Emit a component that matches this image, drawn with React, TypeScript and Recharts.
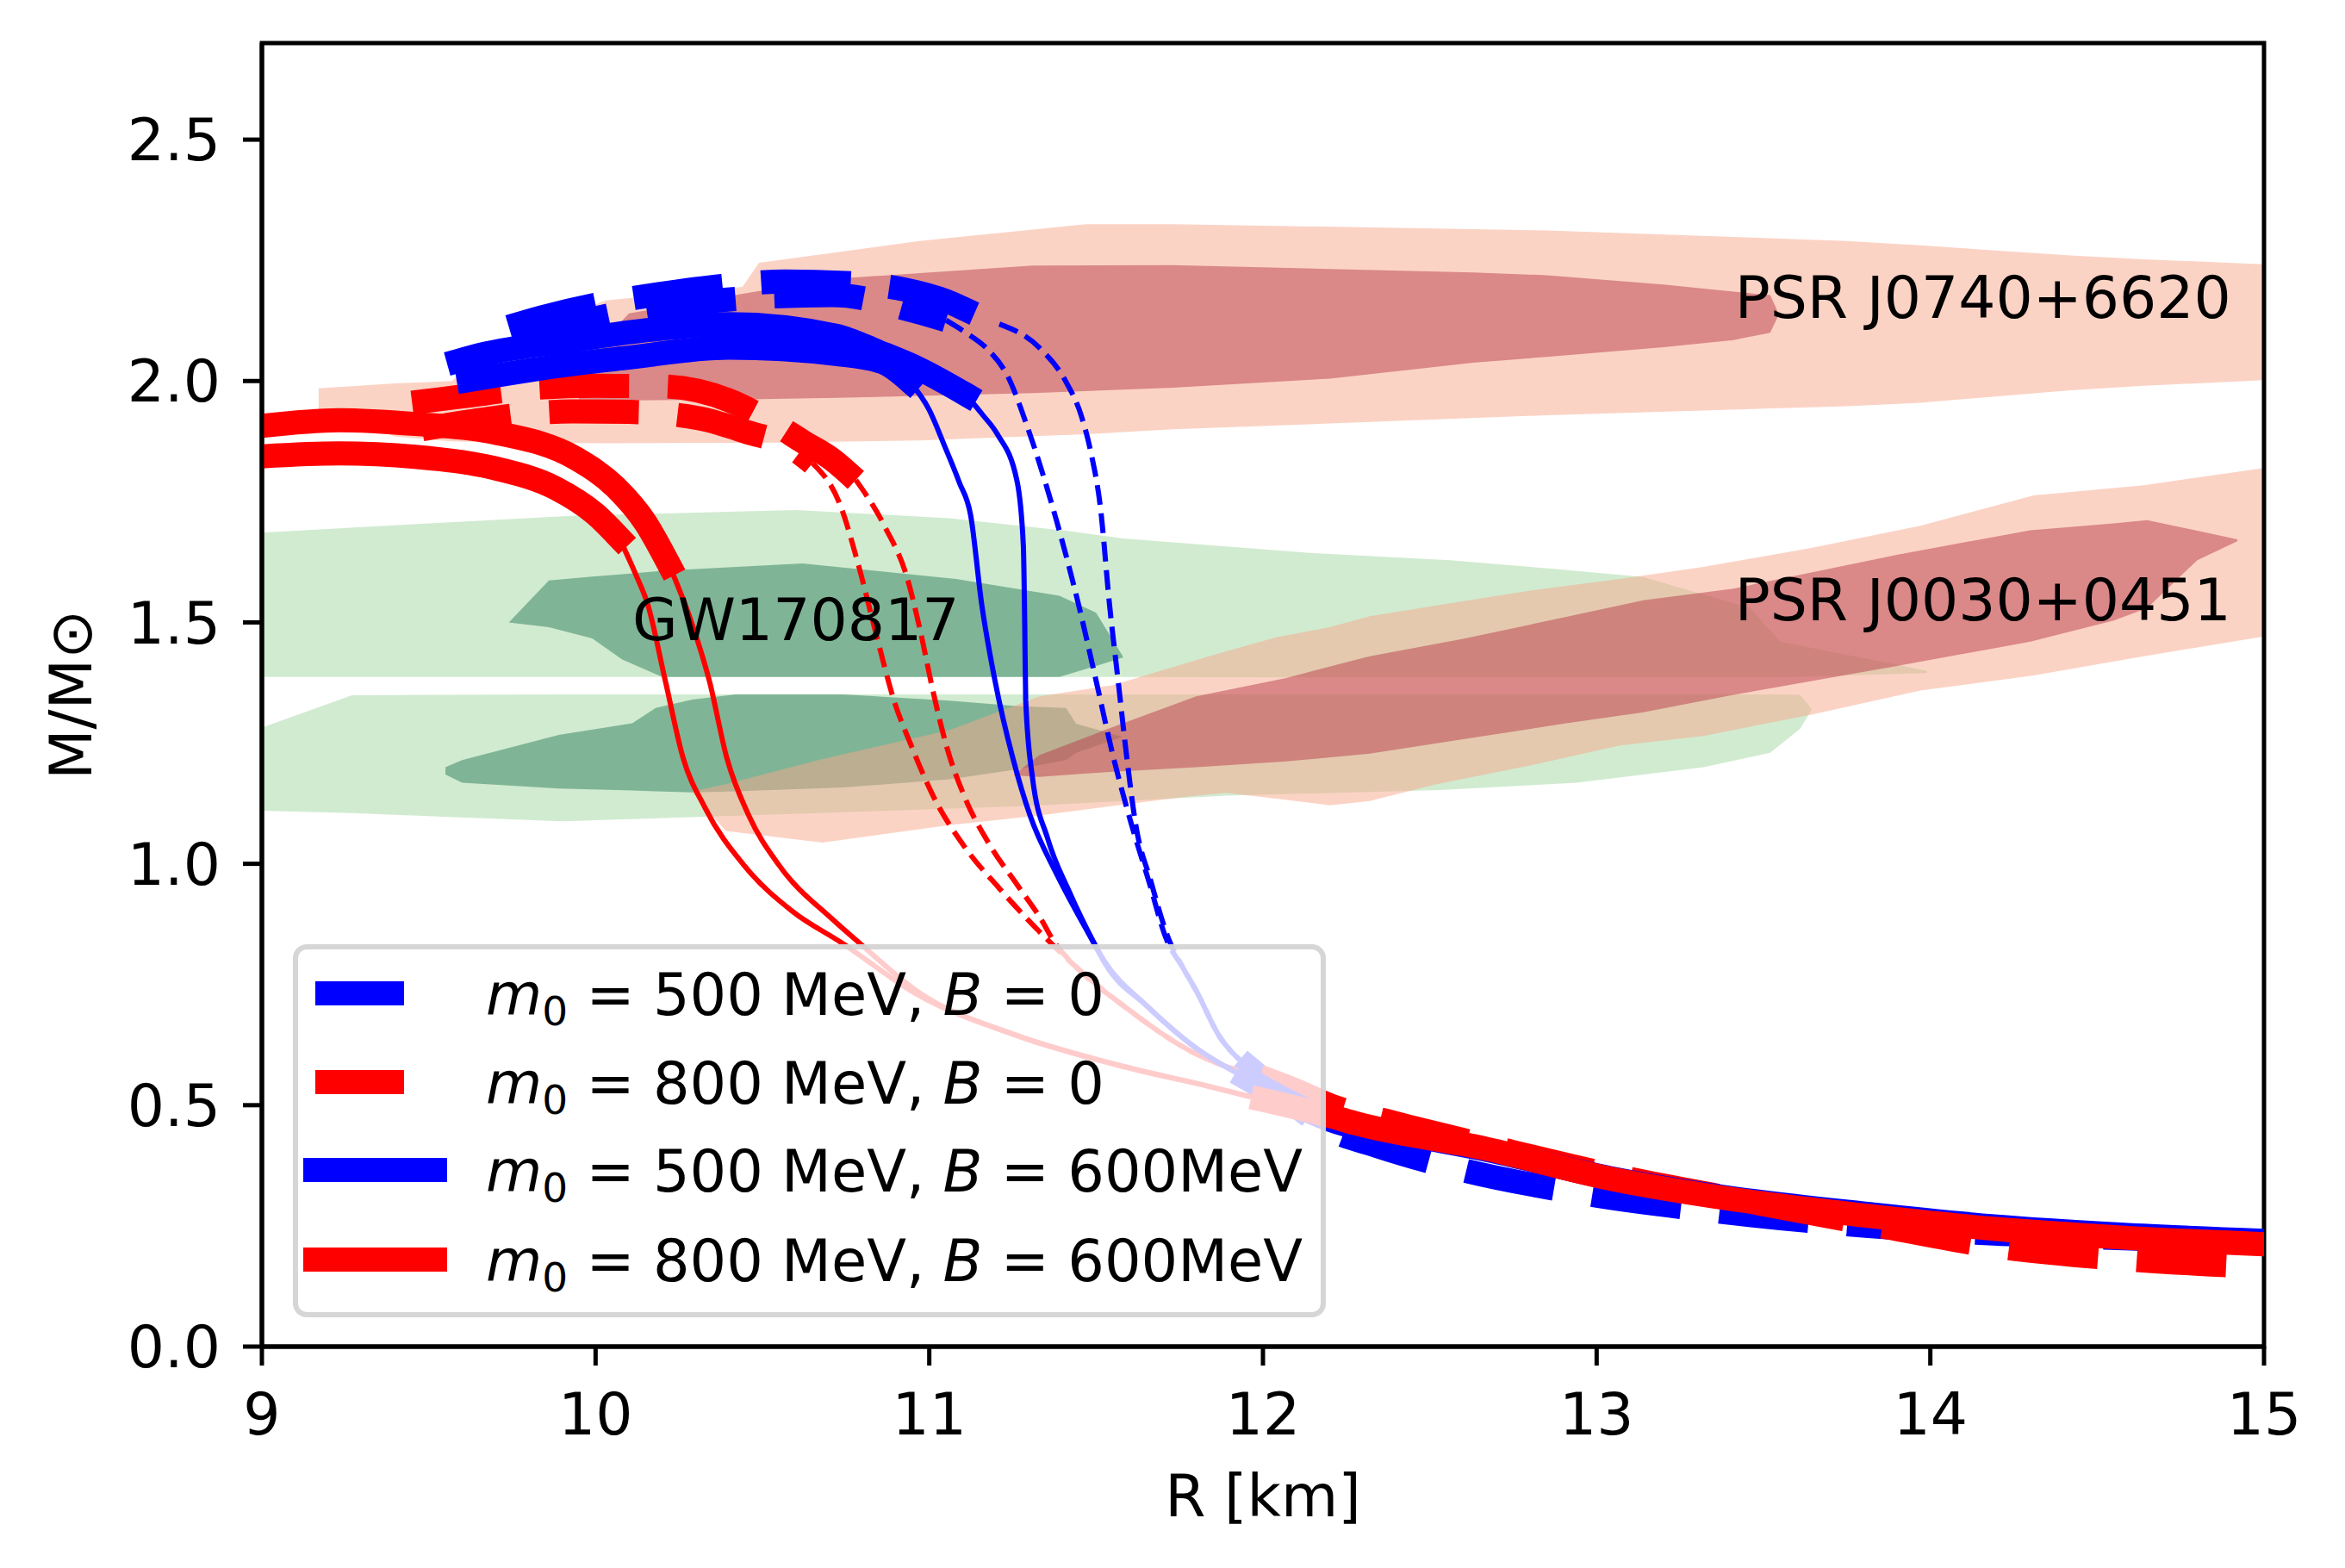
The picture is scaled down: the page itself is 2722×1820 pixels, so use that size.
import React from "react";
import {
  ComposedChart,
  XAxis,
  YAxis,
  Area,
  Line,
  Legend,
  ReferenceArea,
  ReferenceDot,
} from "recharts";

type Pt = [number, number];
type Band = [number, number, number];

const xTicks = [9, 10, 11, 12, 13, 14, 15];
const yTicks = [0, 0.5, 1, 1.5, 2, 2.5];

// m0 = 500 MeV, B = 0 (blue dashed), two curves per entry
const b0HighA: Pt[] = [[9.74, 2.112], [9.84, 2.132], [10.0, 2.158], [10.19, 2.18], [10.38, 2.197], [10.57, 2.206], [10.75, 2.203], [10.93, 2.189], [11.05, 2.166], [11.14, 2.138], [11.21, 2.118]];
const b0MidA: Pt[] = [[11.21, 2.118], [11.33, 2.069], [11.41, 1.998], [11.456, 1.927], [11.485, 1.85], [11.513, 1.738], [11.54, 1.538], [11.566, 1.379], [11.592, 1.22], [11.618, 1.084], [11.664, 0.964], [11.717, 0.845], [11.76, 0.785], [11.8, 0.737], [11.87, 0.642], [11.93, 0.594]];
const b0HighB: Pt[] = [[9.78, 2.085], [10.0, 2.13], [10.34, 2.165], [10.71, 2.178], [10.96, 2.144], [11.05, 2.126]];
const b0MidB: Pt[] = [[11.05, 2.126], [11.11, 2.1], [11.17, 2.069], [11.235, 2.01], [11.298, 1.897], [11.38, 1.714], [11.447, 1.538], [11.5, 1.379], [11.552, 1.22], [11.605, 1.084], [11.658, 0.964], [11.71, 0.845], [11.76, 0.785], [11.8, 0.737], [11.87, 0.642], [11.93, 0.594]];
const b0Low: Pt[] = [[11.93, 0.594], [12.06, 0.52], [12.2, 0.45], [12.34, 0.416], [12.59, 0.367], [12.97, 0.316], [13.35, 0.281], [13.72, 0.255], [14.19, 0.234], [14.6, 0.224], [15.0, 0.215]];

// m0 = 800 MeV, B = 0 (red dashed)
const r0HighA: Pt[] = [[9.45, 1.955], [9.6, 1.968], [9.82, 1.986], [10.0, 1.99], [10.2, 1.989], [10.4, 1.96], [10.53, 1.914], [10.62, 1.875], [10.71, 1.837], [10.78, 1.795]];
const r0MidA: Pt[] = [[10.78, 1.795], [10.867, 1.698], [10.933, 1.594], [10.973, 1.483], [11.012, 1.355], [11.052, 1.243], [11.105, 1.14], [11.184, 1.036], [11.263, 0.957], [11.342, 0.877], [11.368, 0.845], [11.45, 0.78], [11.58, 0.707], [11.8, 0.606], [11.99, 0.559]];
const r0HighB: Pt[] = [[9.48, 1.9], [9.62, 1.916], [9.93, 1.937], [10.1, 1.936], [10.31, 1.923], [10.45, 1.895], [10.59, 1.861], [10.65, 1.83]];
const r0MidB: Pt[] = [[10.65, 1.83], [10.736, 1.738], [10.788, 1.618], [10.841, 1.475], [10.894, 1.339], [10.947, 1.243], [11.012, 1.14], [11.105, 1.036], [11.21, 0.949], [11.328, 0.861], [11.45, 0.78], [11.58, 0.707], [11.8, 0.606], [11.99, 0.559]];
const r0Low: Pt[] = [[11.99, 0.559], [12.1, 0.53], [12.2, 0.5], [12.4, 0.462], [12.66, 0.418], [13.04, 0.356], [13.42, 0.305], [13.81, 0.255], [14.19, 0.208], [14.57, 0.182], [15.0, 0.165]];

// m0 = 500 MeV, B = 600 MeV (blue solid)
const b6HighA: Pt[] = [[9.59, 2.042], [9.66, 2.055], [9.94, 2.085], [10.15, 2.105], [10.4, 2.118], [10.72, 2.094], [10.85, 2.06], [10.97, 2.025], [11.11, 1.972]];
const b6MidA: Pt[] = [[11.11, 1.972], [11.16, 1.93], [11.203, 1.891], [11.263, 1.793], [11.282, 1.658], [11.286, 1.499], [11.289, 1.339], [11.309, 1.18], [11.355, 1.052], [11.421, 0.94], [11.493, 0.837], [11.53, 0.79], [11.65, 0.707], [11.8, 0.618], [11.95, 0.556]];
const b6HighB: Pt[] = [[9.62, 2.002], [9.94, 2.036], [10.08, 2.047], [10.4, 2.069], [10.72, 2.056], [10.86, 2.039], [10.94, 2.0]];
const b6MidB: Pt[] = [[10.94, 2.0], [11.0, 1.94], [11.045, 1.867], [11.09, 1.79], [11.124, 1.722], [11.157, 1.538], [11.197, 1.379], [11.25, 1.22], [11.302, 1.1], [11.381, 0.98], [11.473, 0.861], [11.526, 0.797], [11.65, 0.707], [11.8, 0.618], [11.95, 0.556]];
const b6Low: Pt[] = [[11.95, 0.556], [12.07, 0.51], [12.2, 0.47], [12.5, 0.43], [12.66, 0.409], [13.04, 0.349], [13.42, 0.306], [13.81, 0.275], [14.19, 0.249], [14.57, 0.232], [15.0, 0.219]];

// m0 = 800 MeV, B = 600 MeV (red solid)
const r6HighA: Pt[] = [[9.0, 1.907], [9.23, 1.919], [9.46, 1.911], [9.7, 1.893], [9.94, 1.84], [10.06, 1.78], [10.15, 1.706], [10.22, 1.62]];
const r6MidA: Pt[] = [[10.22, 1.62], [10.288, 1.499], [10.341, 1.379], [10.393, 1.22], [10.459, 1.1], [10.551, 0.996], [10.71, 0.885], [10.789, 0.837], [10.97, 0.733], [11.26, 0.645], [11.56, 0.584], [11.85, 0.537], [12.0, 0.511]];
const r6HighB: Pt[] = [[9.0, 1.844], [9.23, 1.85], [9.46, 1.843], [9.7, 1.819], [9.88, 1.778], [10.0, 1.724], [10.07, 1.676]];
const r6MidB: Pt[] = [[10.07, 1.676], [10.12, 1.6], [10.156, 1.538], [10.209, 1.379], [10.262, 1.22], [10.328, 1.116], [10.446, 0.996], [10.591, 0.901], [10.736, 0.837], [10.97, 0.727], [11.26, 0.645], [11.56, 0.584], [11.85, 0.537], [12.0, 0.511]];
const r6Low: Pt[] = [[12.0, 0.511], [12.1, 0.495], [12.2, 0.478], [12.28, 0.462], [12.66, 0.411], [13.04, 0.348], [13.42, 0.304], [13.81, 0.271], [14.19, 0.244], [14.57, 0.226], [15.0, 0.212]];

// observational regions: [R, M low, M high]
const gwLightUpper: Band[] = [[9.0, 1.387, 1.686], [9.5, 1.387, 1.705], [9.94, 1.387, 1.721], [10.6, 1.387, 1.733], [11.06, 1.387, 1.716], [11.42, 1.387, 1.689], [11.58, 1.387, 1.674], [12.14, 1.386, 1.644], [12.56, 1.386, 1.629], [12.87, 1.386, 1.611], [13.14, 1.386, 1.594], [13.46, 1.386, 1.53], [13.55, 1.386, 1.46], [13.99, 1.395, 1.4]];
const gwLightLower: Band[] = [[9.0, 1.11, 1.282], [9.27, 1.105, 1.349], [9.9, 1.088, 1.351], [10.63, 1.104, 1.351], [11.3, 1.12, 1.351], [11.89, 1.141, 1.351], [12.53, 1.153, 1.351], [12.94, 1.168, 1.351], [13.32, 1.2, 1.351], [13.52, 1.23, 1.351], [13.61, 1.28, 1.35], [13.645, 1.32, 1.32]];
const gwDarkUpper: Band[] = [[9.74, 1.5, 1.5], [9.86, 1.49, 1.587], [9.99, 1.467, 1.595], [10.08, 1.423, 1.6], [10.2, 1.387, 1.607], [10.62, 1.387, 1.622], [11.08, 1.387, 1.59], [11.39, 1.387, 1.555], [11.5, 1.41, 1.52], [11.58, 1.427, 1.43]];
const gwDarkLower: Band[] = [[9.55, 1.185, 1.2], [9.6, 1.168, 1.215], [9.89, 1.156, 1.267], [10.11, 1.152, 1.291], [10.18, 1.15, 1.323], [10.29, 1.148, 1.34], [10.42, 1.15, 1.351], [10.74, 1.158, 1.351], [11.06, 1.175, 1.338], [11.26, 1.195, 1.327], [11.41, 1.215, 1.323], [11.44, 1.23, 1.29], [11.58, 1.263, 1.263]];
const j0740Light: Band[] = [[9.17, 1.94, 1.985], [9.4, 1.885, 1.995], [9.57, 1.875, 2.0], [9.7, 1.873, 2.08], [10.03, 1.871, 2.167], [10.44, 1.872, 2.195], [10.49, 1.872, 2.245], [10.97, 1.877, 2.29], [11.47, 1.89, 2.325], [11.73, 1.9, 2.325], [12.85, 1.929, 2.312], [13.75, 1.948, 2.29], [13.97, 1.955, 2.281], [14.42, 1.981, 2.26], [14.64, 1.99, 2.252], [15.0, 2.002, 2.242]];
const j0740Dark: Band[] = [[9.95, 1.962, 2.03], [10.1, 1.96, 2.14], [10.46, 1.962, 2.183], [10.72, 1.965, 2.212], [11.31, 1.975, 2.239], [11.73, 1.986, 2.24], [12.2, 2.005, 2.232], [12.63, 2.038, 2.225], [12.85, 2.05, 2.219], [13.2, 2.07, 2.2], [13.41, 2.085, 2.185], [13.52, 2.1, 2.178], [13.545, 2.136, 2.14]];
const j0030Light: Band[] = [[10.29, 1.148, 1.15], [10.39, 1.068, 1.165], [10.68, 1.044, 1.217], [11.06, 1.08, 1.277], [11.33, 1.1, 1.347], [11.55, 1.12, 1.37], [11.78, 1.14, 1.418], [11.89, 1.147, 1.44], [12.04, 1.135, 1.469], [12.2, 1.121, 1.49], [12.32, 1.13, 1.513], [12.52, 1.165, 1.535], [12.81, 1.205, 1.567], [13.07, 1.245, 1.59], [13.32, 1.265, 1.615], [13.65, 1.31, 1.655], [13.97, 1.359, 1.7], [14.31, 1.39, 1.763], [14.64, 1.43, 1.784], [15.0, 1.471, 1.82]];
const j0030Dark: Band[] = [[11.254, 1.183, 1.185], [11.33, 1.18, 1.225], [11.53, 1.19, 1.278], [11.8, 1.2, 1.347], [12.07, 1.212, 1.385], [12.32, 1.228, 1.43], [12.6, 1.258, 1.466], [12.9, 1.29, 1.51], [13.14, 1.314, 1.546], [13.41, 1.35, 1.57], [13.9, 1.41, 1.64], [14.3, 1.46, 1.691], [14.55, 1.504, 1.705], [14.65, 1.53, 1.712], [14.8, 1.629, 1.69], [14.92, 1.668, 1.672]];

const textLabels = [
  { text: "GW170817", r: 10.11, m: 1.463 },
  { text: "PSR J0740+6620", r: 13.414, m: 2.131 },
  { text: "PSR J0030+0451", r: 13.414, m: 1.504 },
];

const legendRows = [
  { m0: "500", b: "0", color: "#0000ff", dashed: true },
  { m0: "800", b: "0", color: "#ff0000", dashed: true },
  { m0: "500", b: "600MeV", color: "#0000ff", dashed: false },
  { m0: "800", b: "600MeV", color: "#ff0000", dashed: false },
];

const FONT = "DejaVu Sans";
const THICK = 28;
const THIN = 6;
const DASH_THICK = "104 45";
const DASH_THIN = "23 10";

const regions = [
  { data: gwLightUpper, fill: "#a3d7a1" },
  { data: gwLightLower, fill: "#a3d7a1" },
  { data: gwDarkUpper, fill: "#2d7f5c" },
  { data: gwDarkLower, fill: "#2d7f5c" },
  { data: j0740Light, fill: "#f7a88b" },
  { data: j0030Light, fill: "#f7a88b" },
  { data: j0740Dark, fill: "#b93d4b" },
  { data: j0030Dark, fill: "#b93d4b" },
];

// each entry: thick stable top, thin middle, thick low-mass tail
const curves = [
  { color: "#0000ff", dashed: true, high: [b0HighA, b0HighB], mid: [b0MidA, b0MidB], low: b0Low },
  { color: "#ff0000", dashed: true, high: [r0HighA, r0HighB], mid: [r0MidA, r0MidB], low: r0Low },
  { color: "#0000ff", dashed: false, high: [b6HighA, b6HighB], mid: [b6MidA, b6MidB], low: b6Low },
  { color: "#ff0000", dashed: false, high: [r6HighA, r6HighB], mid: [r6MidA, r6MidB], low: r6Low },
];

const toLine = (pts: Pt[]) => pts.map(([r, m]) => ({ r, m }));
const toBand = (b: Band[]) => b.map(([r, lo, hi]) => ({ r, v: [lo, hi] }));

function segment(key: string, pts: Pt[], color: string, dashed: boolean, thick: boolean) {
  return (
    <Line
      key={key}
      data={toLine(pts)}
      dataKey="m"
      type="monotone"
      stroke={color}
      strokeWidth={thick ? THICK : THIN}
      strokeDasharray={dashed ? (thick ? DASH_THICK : DASH_THIN) : undefined}
      strokeLinecap={dashed ? "butt" : "square"}
      strokeLinejoin="round"
      dot={false}
      activeDot={false}
      isAnimationActive={false}
    />
  );
}

function LegendBox() {
  const rowY = [57, 160, 262, 366];
  return (
    <div
      style={{
        boxSizing: "border-box",
        width: 1199,
        height: 433,
        border: "6px solid rgba(204,204,204,0.8)",
        borderRadius: 16,
        background: "rgba(255,255,255,0.8)",
        position: "relative",
      }}
    >
      <svg width={1199} height={433} style={{ position: "absolute", left: -6, top: -6 }}>
        {legendRows.map((row, i) => {
          const y = rowY[i];
          return (
            <g key={i}>
              {row.dashed ? (
                <rect x={26} y={y - 14} width={103} height={28} fill={row.color} />
              ) : (
                <rect x={12} y={y - 14} width={167} height={28} fill={row.color} />
              )}
              <text x={224} y={y + 25} fontSize={67} fontFamily={FONT} fill="#000" style={{ whiteSpace: "pre" }}>
                <tspan fontStyle="italic">m</tspan>
                <tspan fontSize={47} dy={12}>0</tspan>
                <tspan dy={-12}>{" = " + row.m0 + " MeV, "}</tspan>
                <tspan fontStyle="italic">B</tspan>
                <tspan>{" = " + row.b}</tspan>
              </text>
            </g>
          );
        })}
      </svg>
    </div>
  );
}

const tickStyle = { fontSize: 68, fill: "#000", fontFamily: FONT };

export default function App() {
  return (
    <div style={{ width: 2722, height: 1820, background: "#fff", fontFamily: FONT }}>
      <style>{"body{margin:0;background:#fff}"}</style>
      <ComposedChart
        width={2722}
        height={1820}
        margin={{ top: 50, right: 94, bottom: 0, left: 0 }}
      >
        <XAxis
          type="number"
          dataKey="r"
          domain={[9, 15]}
          ticks={xTicks}
          allowDataOverflow
          height={257}
          tickSize={22}
          tickMargin={32}
          tick={tickStyle}
          tickLine={{ stroke: "#000", strokeWidth: 5 }}
          axisLine={{ stroke: "#000", strokeWidth: 5 }}
          label={{ value: "R [km]", position: "insideBottom", offset: 60, fill: "#000", fontSize: 68, fontFamily: FONT }}
        />
        <YAxis
          type="number"
          domain={[0, 2.7]}
          ticks={yTicks}
          tickFormatter={(v: number) => v.toFixed(1)}
          allowDataOverflow
          width={304}
          tickSize={22}
          tickMargin={26}
          tick={tickStyle}
          tickLine={{ stroke: "#000", strokeWidth: 5 }}
          axisLine={{ stroke: "#000", strokeWidth: 5 }}
          label={{
            content: (props: any) => {
              const vb = props.viewBox || { x: 0, y: 50, width: 304, height: 1513 };
              const cx = vb.x + 82;
              const cy = vb.y + vb.height / 2;
              return (
                <text
                  x={cx}
                  y={cy}
                  transform={`rotate(-90 ${cx} ${cy})`}
                  textAnchor="middle"
                  dominantBaseline="central"
                  fontSize={68}
                  fontFamily={FONT}
                  fill="#000"
                >
                  M/M⊙
                </text>
              );
            },
          }}
        />

        {regions.map((reg, i) => (
          <Area
            key={"reg" + i}
            data={toBand(reg.data)}
            dataKey="v"
            type="linear"
            stroke="none"
            fill={reg.fill}
            fillOpacity={0.5}
            dot={false}
            activeDot={false}
            isAnimationActive={false}
          />
        ))}

        {curves.flatMap((c, i) => [
          ...c.high.map((pts, j) => segment(`h${i}${j}`, pts, c.color, c.dashed, true)),
          ...c.mid.map((pts, j) => segment(`m${i}${j}`, pts, c.color, c.dashed, false)),
          segment(`l${i}`, c.low, c.color, c.dashed, true),
        ])}

        {textLabels.map((t) => (
          <ReferenceDot
            key={t.text}
            x={t.r}
            y={t.m}
            r={0}
            fill="none"
            stroke="none"
            label={{
              content: (props: any) => {
                const vb = props.viewBox || { x: 0, y: 0 };
                return (
                  <text x={vb.x} y={vb.y} fontSize={68} fontFamily={FONT} fill="#000">
                    {t.text}
                  </text>
                );
              },
            }}
          />
        ))}

        <ReferenceArea
          x1={9}
          x2={15}
          y1={0}
          y2={2.7}
          fill="none"
          fillOpacity={0}
          stroke="#000"
          strokeWidth={5}
          ifOverflow="visible"
        />

        <Legend
          layout="horizontal"
          verticalAlign="middle"
          align="center"
          width={1199}
          height={433}
          wrapperStyle={{ left: 340, top: 1096, width: 1199, height: 433 }}
          content={() => <LegendBox />}
        />
      </ComposedChart>
    </div>
  );
}
